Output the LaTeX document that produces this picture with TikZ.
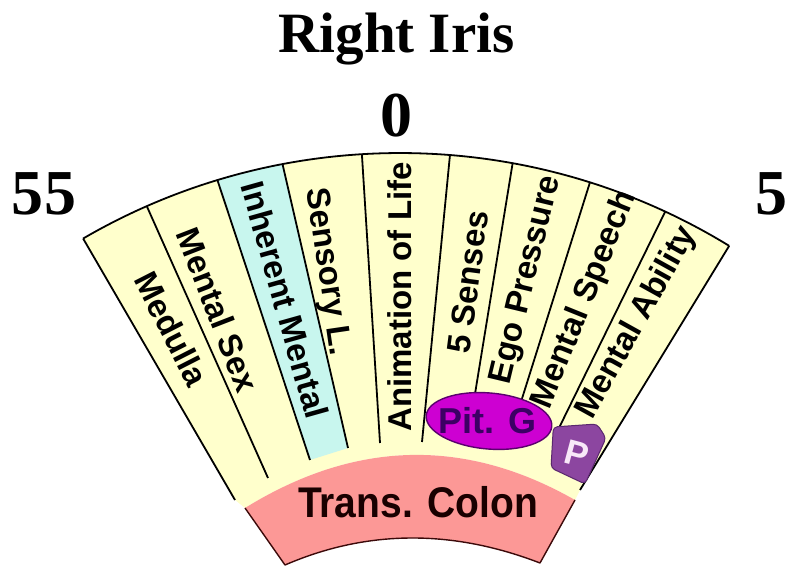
\documentclass[tikz,border=0pt]{standalone}
\usepackage{fontspec}
\usepackage{graphicx}
\setmainfont{Liberation Serif}
\newfontfamily\labfont{Liberation Sans}
\usetikzlibrary{calc,shapes.geometric}
\definecolor{fanyellow}{RGB}{255,255,204}
\definecolor{fancyan}{RGB}{200,246,238}
\definecolor{pinkband}{RGB}{252,152,150}
\definecolor{pinkedge}{RGB}{60,10,10}
\definecolor{pitfill}{RGB}{205,0,210}
\definecolor{pitedge}{RGB}{90,0,110}
\definecolor{pittext}{RGB}{60,0,100}
\definecolor{pbox}{RGB}{140,70,160}
\definecolor{pboxedge}{RGB}{90,40,110}
\definecolor{pletter}{RGB}{248,232,248}
\begin{document}
\begin{tikzpicture}[x=1pt,y=1pt,
  fanline/.style={line width=1.8pt,black},
  lab/.style={font=\labfont\bfseries\fontsize{33}{33}\selectfont,inner sep=0pt},
  num/.style={font=\bfseries\fontsize{64}{64}\selectfont,inner sep=0pt},
  titlefont/.style={font=\bfseries\fontsize{57}{57}\selectfont,inner sep=0pt}]
\useasboundingbox (0,0) rectangle (786,569);
\coordinate (C) at (400,-214);
% yellow fan
\fill[fanyellow] (235,69) -- ($(C)+(120.2:630)$) arc[start angle=120.2,end angle=58.5,radius=630]
  -- (580,79) -- (575,69) .. controls (465,131.7) and (355,129) .. (245,61) -- cycle;
% cyan segment
\fill[fancyan] ($(C)+(106.85:630)$) arc[start angle=106.85,end angle=100.75,radius=630]
  -- (348,121) -- (310,109) -- cycle;
% pink band
\fill[pinkband] (245,61) -- (285,4) .. controls (366.7,39.3) and (451.7,40) .. (540,6) -- (575,69)
  .. controls (465,131.7) and (355,129) .. (245,61) -- cycle;
\draw[pinkedge,line width=1.4pt,line join=round] (245,61) -- (285,4) .. controls (366.7,39.3) and (451.7,40) .. (540,6) -- (575,69);
% black lines
\draw[fanline] ($(C)+(120.2:630)$) arc[start angle=120.2,end angle=58.5,radius=630];
\draw[fanline] (235,69) -- ($(C)+(120.2:630)$);
\draw[fanline] (580,79) -- ($(C)+(58.5:630)$);
\foreach \a/\bx/\by in {113.7/268/91, 106.85/310/109, 100.75/348/121, 93.47/380/126,
  85.45/422/127, 79.7/474/169, 72.45/520/164, 65.1/557/137}
  \draw[fanline] ($(C)+(\a:630)$) -- (\bx,\by);
% P box and pituitary
\filldraw[fill=pbox,draw=pboxedge,line width=1pt,rounded corners=4pt]
  (553.3,142) -- (597,145) -- (606,131) -- (585,85) -- (551,101) -- cycle;
\node[draw=pitedge,fill=pitfill,line width=1.4pt,ellipse,minimum width=126pt,minimum height=56pt,inner sep=0pt,rotate=-5] (pitg) at (489,148) {};
\node[font=\labfont\bfseries\fontsize{36}{36}\selectfont,text=pittext,inner sep=0pt,anchor=base] (pitgt) at (487.5,135.7) {Pit. G};
\node[font=\labfont\bfseries\fontsize{35}{35}\selectfont,text=pletter,inner sep=0pt,rotate=-15] (pl) at (577,115) {P};
% labels
\node[lab,rotate=-63] (l1) at (171.7,240) {Medulla};
\node[lab,rotate=-68.8] (l2) at (218,259) {Mental Sex};
\node[lab,rotate=-74.3] (l3) at (285,269) {Inherent Mental};
\node[lab,rotate=-81.7] (l4) at (327,297) {Sensory L.};
\node[lab,rotate=90] (l5) at (400,272) {Animation of Life};
\node[lab,rotate=82.5] (l6) at (468,287) {5 Senses};
\node[lab,rotate=76.5] (l7) at (527,289) {Ego Pressure};
\node[lab,rotate=68] (l8) at (585,269) {Mental Speech};
\node[lab,rotate=61] (l9) at (637,246) {Mental Ability};
\node[font=\labfont\bfseries\fontsize{39}{39}\selectfont,text=black!90!red,inner sep=0pt,anchor=base] (colon) at (418,51.7) {\scalebox{1}[1.1]{Trans. Colon}};
% title and numbers
\node[titlefont,anchor=base] (title) at (396.5,516) {Right Iris};
\node[num,anchor=base] (n0) at (396.7,432) {0};
\node[num,anchor=base] (n55) at (44,354) {55};
\node[num,anchor=base west] (n5) at (755,354) {5};
\end{tikzpicture}
\end{document}
